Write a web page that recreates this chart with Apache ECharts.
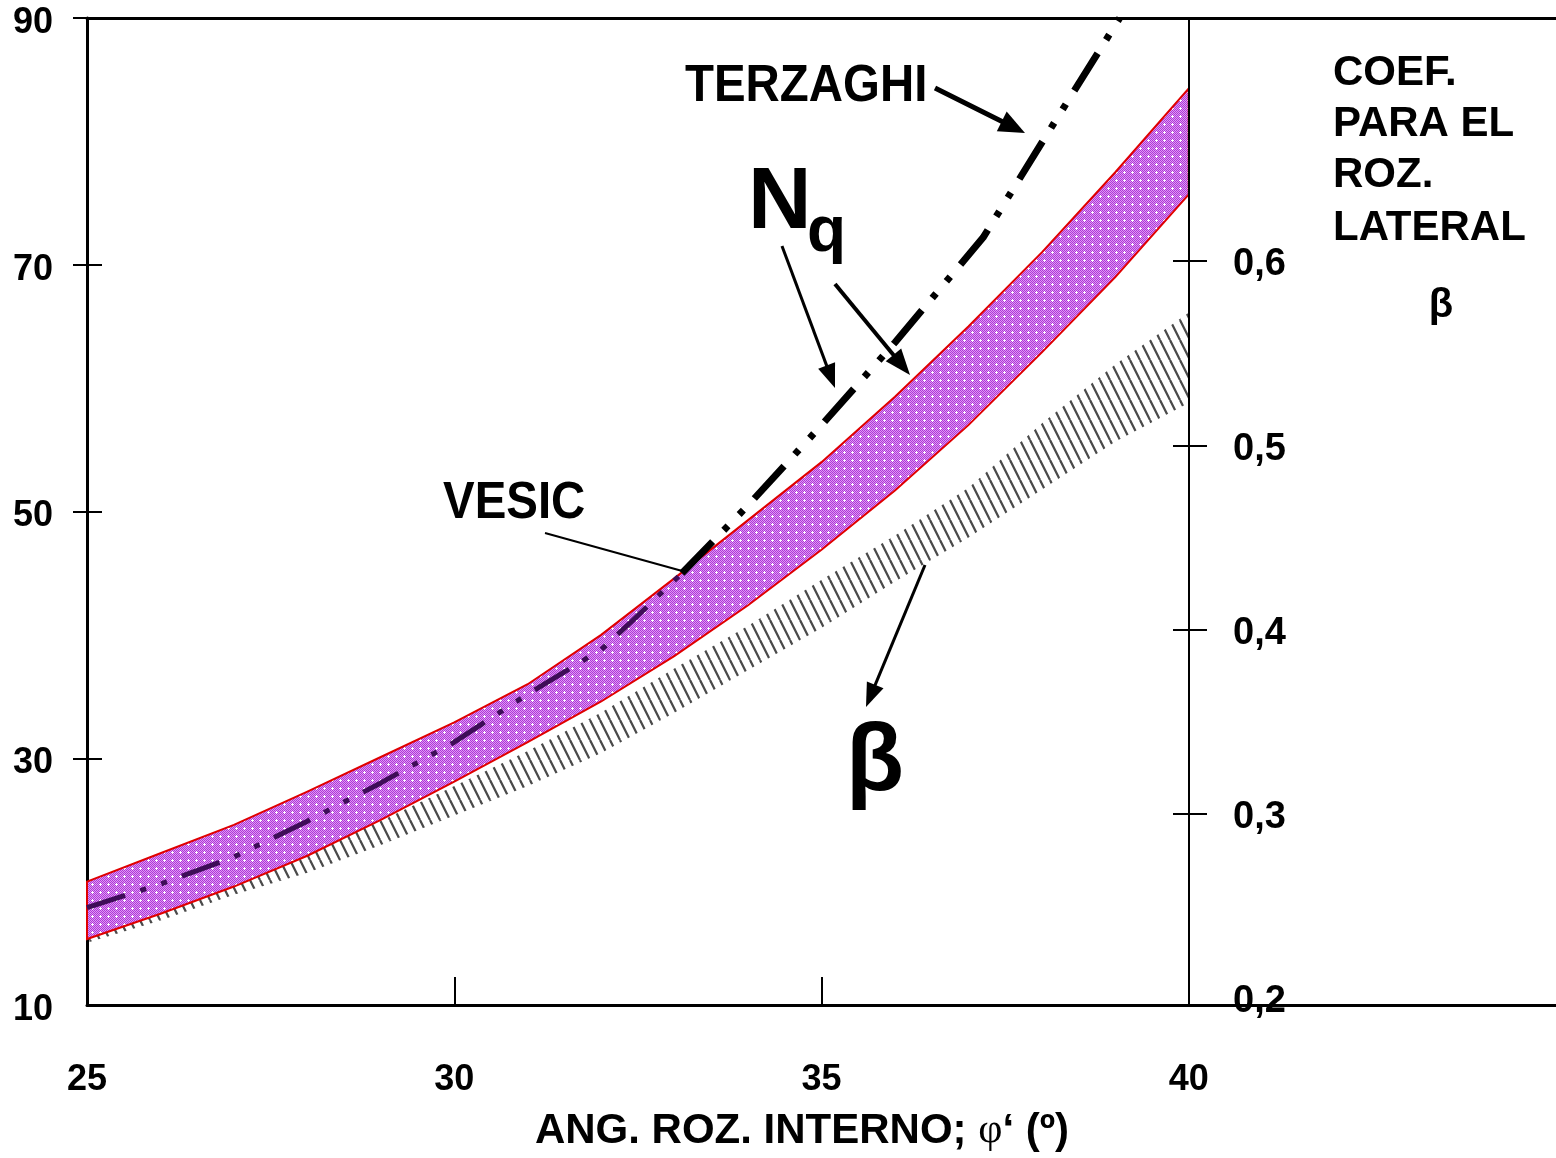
<!DOCTYPE html>
<html><head><meta charset="utf-8">
<script src="https://cdn.jsdelivr.net/npm/echarts@6/dist/echarts.min.js"></script>
<style>html,body{margin:0;padding:0;background:#fff}#c{width:1556px;height:1158px}</style>
</head><body><div id="c"></div>
<script>
// ---- data ----
const phi = [25,26,27,28,29,30,31,32,33,34,35,36,37,38,39,40];
const nqUpper = [20.0,22.3,24.6,27.3,30.1,32.9,36.0,40.0,44.6,49.3,54.0,59.3,65.0,71.0,77.5,84.3];
const nqLower = [15.35,17.4,19.6,22.1,25.0,28.1,31.3,34.6,38.3,42.4,46.9,51.7,57.0,62.9,69.0,75.7];
const terzX = [25,26,27,28,29,30,31,32,32.4,33.1,34,35,36,37.2,38,39.06];
const terzY = [17.9,19.8,22.0,24.9,28.0,31.3,35.2,38.8,41.0,45.0,50.5,57.0,63.7,72.2,79.9,90];
const betaUpper = [0.234,0.247,0.262,0.279,0.296,0.315,0.334,0.355,0.379,0.402,0.427,0.451,0.477,0.512,0.544,0.572];
const betaLower = [0.230,0.242,0.256,0.268,0.283,0.299,0.315,0.333,0.355,0.378,0.401,0.426,0.450,0.476,0.502,0.523];
const xLabels = [25,30,35,40];
const xTickMarks = [30,35];
const yLeftTicks = [30,50,70,90];
const yRightTicks = [0.3,0.4,0.5,0.6];
const splitPhi = 33.1;

const FONT = '"Liberation Sans", Arial, sans-serif';

function nqPattern(){
  const c=document.createElement('canvas'); c.width=8; c.height=8;
  const g=c.getContext('2d');
  for(let i=0;i<8;i++)for(let j=0;j<8;j++){
    g.fillStyle=((i+j)%2)?'rgb(224,152,243)':'rgb(172,56,216)';
    g.fillRect(i,j,1,1);
  }
  g.fillStyle='#fff'; g.fillRect(3,4,3,1); g.fillRect(4,3,1,3);
  return c;
}
function betaPattern(){
  const c=document.createElement('canvas'); c.width=10; c.height=20;
  const g=c.getContext('2d');
  g.strokeStyle='#4a4a4a'; g.lineWidth=2.2;
  for(const dx of [-10,0,10]){ g.beginPath(); g.moveTo(dx,0); g.lineTo(dx+10,20); g.stroke(); }
  return c;
}
function band(upper, lower, style){
  return function(params, api){
    const pts=[];
    for(let i=0;i<phi.length;i++) pts.push(api.coord([phi[i], upper[i]]));
    for(let i=phi.length-1;i>=0;i--) pts.push(api.coord([phi[i], lower[i]]));
    return {type:'polygon', shape:{points:pts}, style:style};
  };
}
function arrow(x1,y1,x2,y2,w,hl,hw){
  const a=Math.atan2(y2-y1,x2-x1);
  const bx=x2-hl*Math.cos(a), by=y2-hl*Math.sin(a);
  const px=-Math.sin(a)*hw/2, py=Math.cos(a)*hw/2;
  return [
    {type:'line', shape:{x1:x1,y1:y1,x2:bx+(Math.cos(a)*2),y2:by+(Math.sin(a)*2)}, style:{stroke:'#000', lineWidth:w}},
    {type:'polygon', shape:{points:[[x2,y2],[bx+px,by+py],[bx-px,by-py]]}, style:{fill:'#000'}}
  ];
}
function txt(t, x, y, size, opts){
  opts=opts||{};
  return {type:'text', x:x, y:y, scaleX:opts.sx||1,
    style:{text:t, x:0, y:0, fill:'#000', font:'bold '+size+'px '+FONT,
      align:opts.align||'left', verticalAlign:'middle'}};
}

const terzInner=[], terzOuter=[];
for(let i=0;i<terzX.length;i++){
  if(terzX[i]<=splitPhi) terzInner.push([terzX[i],terzY[i]]);
  if(terzX[i]>=splitPhi) terzOuter.push([terzX[i],terzY[i]]);
}

const chart = echarts.init(document.getElementById('c'), null, {renderer:'canvas'});
const tickStyle = {color:'#000', width:2};
const lbl = (size)=>({fontSize:size, fontWeight:'bold', color:'#000', fontFamily:FONT});

const graphics = [].concat(
  [txt('TERZAGHI',685,86.5,51,{sx:0.93}),
   txt('VESIC',443,503.5,51,{sx:0.93}),
   txt('N',748,204,88),
   txt('q',807,233,64),
   txt('β',846,764,95),
   txt('COEF.',1333,73,42),
   txt('PARA EL',1333,124,42),
   txt('ROZ.',1333,175,42),
   txt('LATERAL',1333,228,42),
   txt('β',1441,306,40,{align:'center'}),
   {type:'text', x:802, y:1131, style:{text:'{a|ANG. ROZ. INTERNO; }{p|φ}{a|‘ (º)}', x:0, y:0,
     align:'center', verticalAlign:'middle',
     rich:{a:{font:'bold 42px '+FONT, fill:'#000'}, p:{font:'42px "Liberation Serif", serif', fill:'#000'}}}},
   {type:'line', shape:{x1:545,y1:533,x2:722,y2:582}, style:{stroke:'#000', lineWidth:2}}
  ],
  arrow(935,88,1025,133,5,26,22),
  arrow(782,246,835,388,3,24,18),
  arrow(835,284,910,375,4,26,20),
  arrow(925,565,866,707,3,24,18)
);

chart.setOption({
  animation:false,
  backgroundColor:'#fff',
  grid:[{left:87,right:0,top:18,bottom:153},{left:87,right:367,top:261,bottom:160}],
  xAxis:[
    {gridIndex:0,type:'value',min:25,max:45,interval:5,position:'bottom',
     axisLine:{onZero:false,lineStyle:{color:'#000',width:3}},
     axisTick:{show:true,inside:true,length:28,customValues:xTickMarks,lineStyle:tickStyle},
     axisLabel:Object.assign({customValues:xLabels,margin:57},lbl(36)),
     splitLine:{show:false}},
    {gridIndex:0,type:'value',min:25,max:45,position:'top',
     axisLine:{onZero:false,lineStyle:{color:'#000',width:3}},
     axisTick:{show:false},axisLabel:{show:false},splitLine:{show:false}},
    {gridIndex:1,type:'value',min:25,max:40,show:false}
  ],
  yAxis:[
    {gridIndex:0,type:'value',min:10,max:90,interval:20,position:'left',
     axisLine:{show:true,onZero:false,lineStyle:{color:'#000',width:3}},
     axisTick:{show:true,length:14,customValues:yLeftTicks,lineStyle:tickStyle},
     axisLabel:Object.assign({margin:34,verticalAlign:'top',lineHeight:10},lbl(36)),splitLine:{show:false}},
    {gridIndex:0,type:'value',min:10,max:90,interval:20,position:'left',
     axisLine:{show:false},
     axisTick:{show:true,inside:true,length:15,customValues:yLeftTicks,lineStyle:tickStyle},
     axisLabel:{show:false},splitLine:{show:false}},
    {gridIndex:1,type:'value',min:0.2,max:0.6,interval:0.1,position:'right',
     axisLine:{show:false},
     axisTick:{show:true,length:18,customValues:yRightTicks,lineStyle:tickStyle},
     axisLabel:Object.assign({margin:44,verticalAlign:'top',lineHeight:8,formatter:v=>v.toFixed(1).replace('.',',')},lbl(38)),
     splitLine:{show:false}},
    {gridIndex:1,type:'value',min:0.2,max:0.6,interval:0.1,position:'right',
     axisLine:{show:false},
     axisTick:{show:true,inside:true,length:16,customValues:yRightTicks,lineStyle:tickStyle},
     axisLabel:{show:false},splitLine:{show:false}}
  ],
  series:[
    {name:'beta',type:'custom',xAxisIndex:2,yAxisIndex:2,z:1,silent:true,
     renderItem:band(betaUpper,betaLower,{fill:{image:betaPattern(),repeat:'repeat'}}),
     data:[[phi[0],betaUpper[0]]]},
    {name:'Nq',type:'custom',xAxisIndex:0,yAxisIndex:0,z:2,silent:true,
     renderItem:band(nqUpper,nqLower,{fill:{image:nqPattern(),repeat:'repeat'},stroke:'#e00000',lineWidth:2}),
     data:[[phi[0],nqUpper[0]]]},
    {name:'Terzaghi (in band)',type:'line',xAxisIndex:0,yAxisIndex:0,z:3,symbol:'none',
     data:terzInner,lineStyle:{color:'#3e0d58',width:5,type:[40,16,6,16,6,16],cap:'butt'}},
    {name:'Terzaghi',type:'line',xAxisIndex:0,yAxisIndex:0,z:3,symbol:'none',
     data:terzOuter,lineStyle:{color:'#000',width:7,type:[44,16,6,16,6,16],cap:'butt'},
     markLine:{symbol:'none',silent:true,label:{show:false},
       lineStyle:{color:'#000',width:2,type:'solid'},data:[{xAxis:40}]}}
  ],
  graphic:graphics
});
</script></body></html>
